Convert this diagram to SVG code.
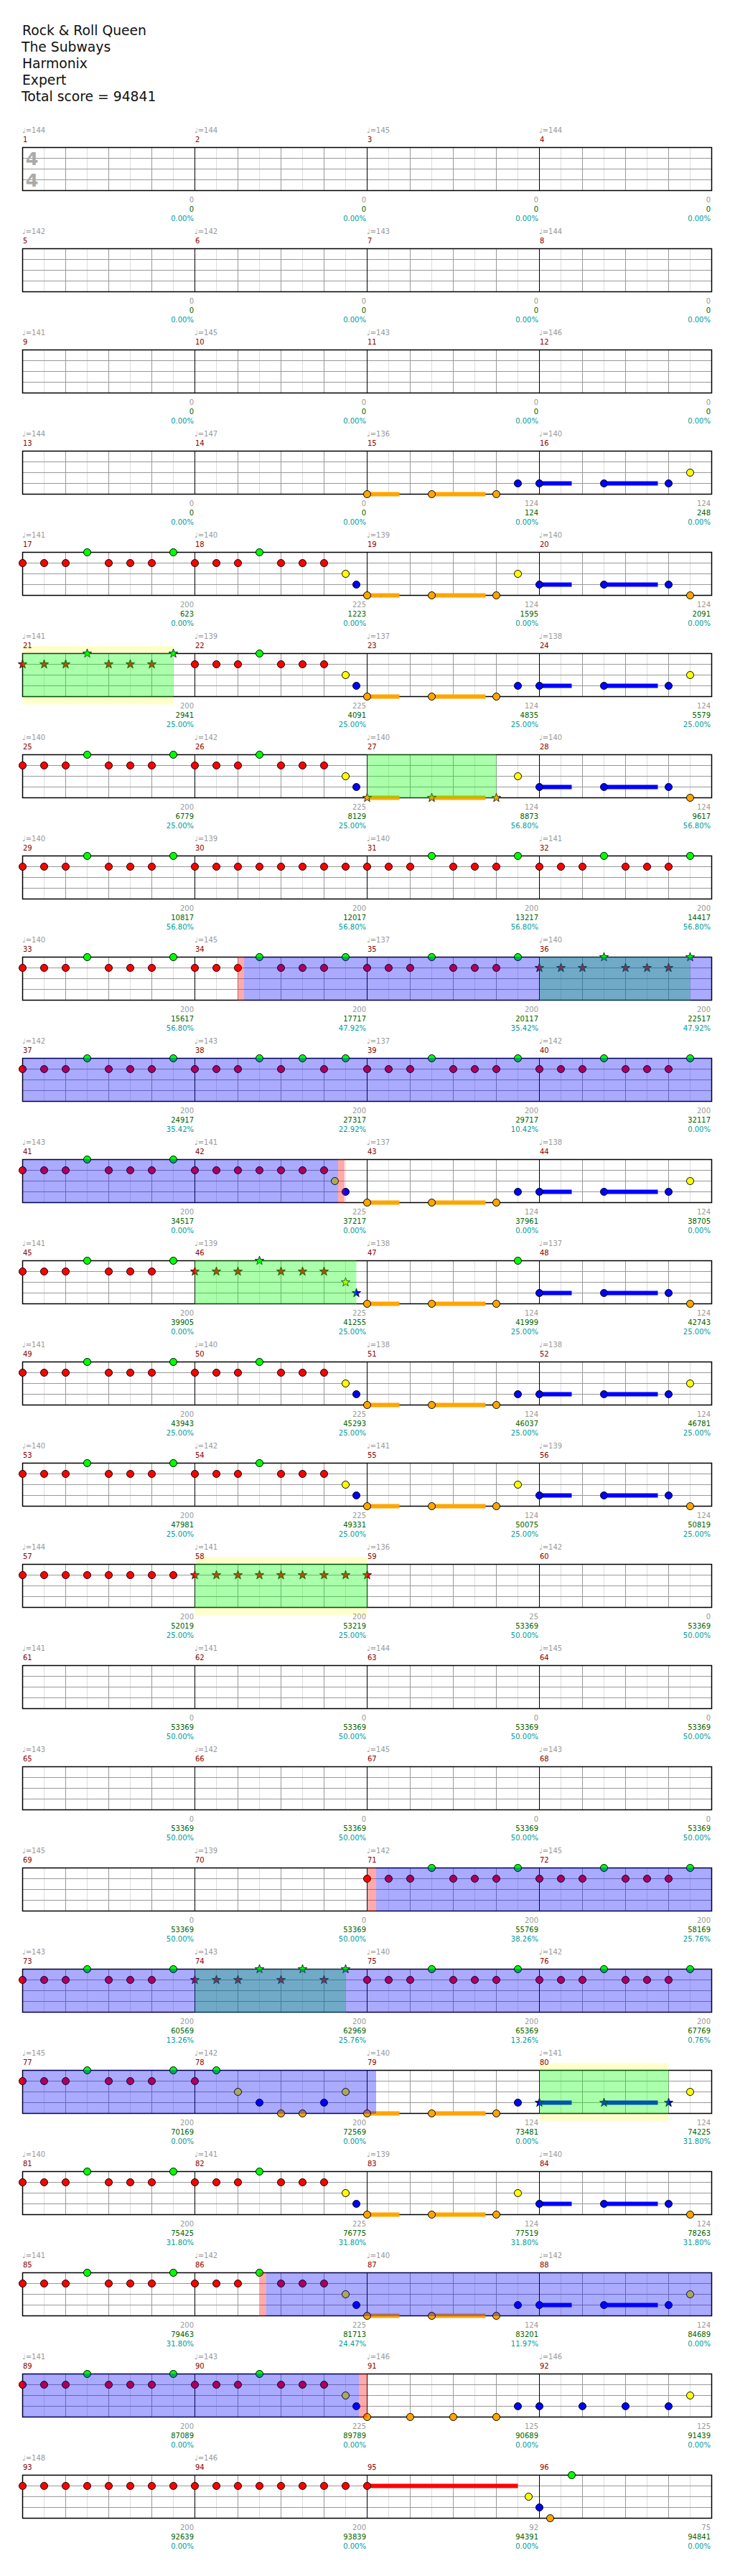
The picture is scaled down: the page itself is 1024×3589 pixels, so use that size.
<svg xmlns="http://www.w3.org/2000/svg" width="1024" height="3589" viewBox="0 0 1024 3589">
<style>
text{font-family:"DejaVu Sans","Liberation Sans",sans-serif;font-size:10px}
.hd{font-size:18.75px;fill:#111}
.ts{font-size:25.5px;font-weight:bold;fill:#aaa;text-anchor:middle}
.tp{fill:#999}
.mn{fill:#8b0000}
.l1{fill:#999;text-anchor:end}
.l2{fill:#006400;text-anchor:end}
.l3{fill:#009c9c;text-anchor:end}
.g{fill:#0f0}.r{fill:#f00}.y{fill:#ff0}.b{fill:#00f}.o{fill:#ffa500}
circle{stroke:#000;stroke-width:1}
.oB{fill:#00f;fill-opacity:.333}
.oG{fill:#0f0;fill-opacity:.333}
.oP{fill:#f00;fill-opacity:.333}
.oY{fill:#ffc}
</style>
<defs>
<g id="staff">
<rect x="31.5" y="205.5" width="960" height="60" fill="#fff"/>
<path d="M61.5 205.5v60M121.5 205.5v60M181.5 205.5v60M241.5 205.5v60M301.5 205.5v60M361.5 205.5v60M421.5 205.5v60M481.5 205.5v60M541.5 205.5v60M601.5 205.5v60M661.5 205.5v60M721.5 205.5v60M781.5 205.5v60M841.5 205.5v60M901.5 205.5v60M961.5 205.5v60" stroke="#ddd"/>
<path d="M91.5 205.5v60M151.5 205.5v60M211.5 205.5v60M331.5 205.5v60M391.5 205.5v60M451.5 205.5v60M571.5 205.5v60M631.5 205.5v60M691.5 205.5v60M811.5 205.5v60M871.5 205.5v60M931.5 205.5v60M31.5 220.5H991.5M31.5 235.5H991.5M31.5 250.5H991.5" stroke="#999"/>
<path d="M271.5 205.5v60M511.5 205.5v60M751.5 205.5v60" stroke="#000"/>
<rect x="31.5" y="205.5" width="960" height="60" fill="none" stroke="#000" stroke-width="1.5"/>
</g>
<path id="star" d="M0,-6.5L1.53,-2.1L6.18,-2.01L2.47,0.8L3.82,5.26L0,2.6L-3.82,5.26L-2.47,0.8L-6.18,-2.01L-1.53,-2.1Z" stroke="#000" stroke-width="0.8"/>
<g id="p7">
<circle class="r" cx="31.5" cy="220.5" r="5"/><circle class="r" cx="61.5" cy="220.5" r="5"/><circle class="r" cx="91.5" cy="220.5" r="5"/><circle class="g" cx="121.5" cy="205.5" r="5"/><circle class="r" cx="151.5" cy="220.5" r="5"/><circle class="r" cx="181.5" cy="220.5" r="5"/><circle class="r" cx="211.5" cy="220.5" r="5"/>
</g>
<g id="tO">
<rect class="o" x="511.5" y="262.5" width="45" height="6"/><rect class="o" x="601.5" y="262.5" width="75" height="6"/>
<circle class="o" cx="511.5" cy="265.5" r="5"/><circle class="o" cx="601.5" cy="265.5" r="5"/><circle class="o" cx="691.5" cy="265.5" r="5"/>
</g>
<g id="tB">
<rect class="b" x="751.5" y="247.5" width="45" height="6"/><rect class="b" x="841.5" y="247.5" width="75" height="6"/>
<circle class="b" cx="751.5" cy="250.5" r="5"/><circle class="b" cx="841.5" cy="250.5" r="5"/><circle class="b" cx="931.5" cy="250.5" r="5"/>
</g>
</defs>
<rect width="1024" height="3589" fill="#fff"/>
<g id="header">
<text class="hd" x="31" y="49">Rock &amp; Roll Queen</text>
<text class="hd" x="30" y="72">The Subways</text>
<text class="hd" x="31" y="95">Harmonix</text>
<text class="hd" x="31" y="118">Expert</text>
<text class="hd" x="30" y="141">Total score = 94841</text>
</g>

<g id="row-0">
<use href="#staff"/>
<text class="ts" x="44.5" y="230">4</text><text class="ts" x="44.5" y="260">4</text>
<text class="tp" x="31" y="185">♩=144</text><text class="tp" x="271" y="185">♩=144</text><text class="tp" x="511" y="185">♩=145</text><text class="tp" x="751" y="185">♩=144</text>
<text class="mn" x="32" y="198">1</text><text class="mn" x="272" y="198">2</text><text class="mn" x="512" y="198">3</text><text class="mn" x="752" y="198">4</text>
<text class="l1" x="270" y="281.5">0</text><text class="l2" x="270" y="294.5">0</text><text class="l3" x="270" y="307.5">0.00%</text>
<text class="l1" x="510" y="281.5">0</text><text class="l2" x="510" y="294.5">0</text><text class="l3" x="510" y="307.5">0.00%</text>
<text class="l1" x="750" y="281.5">0</text><text class="l2" x="750" y="294.5">0</text><text class="l3" x="750" y="307.5">0.00%</text>
<text class="l1" x="990" y="281.5">0</text><text class="l2" x="990" y="294.5">0</text><text class="l3" x="990" y="307.5">0.00%</text>
</g>

<g id="row-1" transform="translate(0,141)">
<use href="#staff"/>
<text class="tp" x="31" y="185">♩=142</text><text class="tp" x="271" y="185">♩=142</text><text class="tp" x="511" y="185">♩=143</text><text class="tp" x="751" y="185">♩=144</text>
<text class="mn" x="32" y="198">5</text><text class="mn" x="272" y="198">6</text><text class="mn" x="512" y="198">7</text><text class="mn" x="752" y="198">8</text>
<text class="l1" x="270" y="281.5">0</text><text class="l2" x="270" y="294.5">0</text><text class="l3" x="270" y="307.5">0.00%</text>
<text class="l1" x="510" y="281.5">0</text><text class="l2" x="510" y="294.5">0</text><text class="l3" x="510" y="307.5">0.00%</text>
<text class="l1" x="750" y="281.5">0</text><text class="l2" x="750" y="294.5">0</text><text class="l3" x="750" y="307.5">0.00%</text>
<text class="l1" x="990" y="281.5">0</text><text class="l2" x="990" y="294.5">0</text><text class="l3" x="990" y="307.5">0.00%</text>
</g>

<g id="row-2" transform="translate(0,282)">
<use href="#staff"/>
<text class="tp" x="31" y="185">♩=141</text><text class="tp" x="271" y="185">♩=145</text><text class="tp" x="511" y="185">♩=143</text><text class="tp" x="751" y="185">♩=146</text>
<text class="mn" x="32" y="198">9</text><text class="mn" x="272" y="198">10</text><text class="mn" x="512" y="198">11</text><text class="mn" x="752" y="198">12</text>
<text class="l1" x="270" y="281.5">0</text><text class="l2" x="270" y="294.5">0</text><text class="l3" x="270" y="307.5">0.00%</text>
<text class="l1" x="510" y="281.5">0</text><text class="l2" x="510" y="294.5">0</text><text class="l3" x="510" y="307.5">0.00%</text>
<text class="l1" x="750" y="281.5">0</text><text class="l2" x="750" y="294.5">0</text><text class="l3" x="750" y="307.5">0.00%</text>
<text class="l1" x="990" y="281.5">0</text><text class="l2" x="990" y="294.5">0</text><text class="l3" x="990" y="307.5">0.00%</text>
</g>

<g id="row-3" transform="translate(0,423)">
<use href="#staff"/>
<use href="#tO"/><circle class="b" cx="721.5" cy="250.5" r="5"/><use href="#tB"/><circle class="y" cx="961.5" cy="235.5" r="5"/>
<text class="tp" x="31" y="185">♩=144</text><text class="tp" x="271" y="185">♩=147</text><text class="tp" x="511" y="185">♩=136</text><text class="tp" x="751" y="185">♩=140</text>
<text class="mn" x="32" y="198">13</text><text class="mn" x="272" y="198">14</text><text class="mn" x="512" y="198">15</text><text class="mn" x="752" y="198">16</text>
<text class="l1" x="270" y="281.5">0</text><text class="l2" x="270" y="294.5">0</text><text class="l3" x="270" y="307.5">0.00%</text>
<text class="l1" x="510" y="281.5">0</text><text class="l2" x="510" y="294.5">0</text><text class="l3" x="510" y="307.5">0.00%</text>
<text class="l1" x="750" y="281.5">124</text><text class="l2" x="750" y="294.5">124</text><text class="l3" x="750" y="307.5">0.00%</text>
<text class="l1" x="990" y="281.5">124</text><text class="l2" x="990" y="294.5">248</text><text class="l3" x="990" y="307.5">0.00%</text>
</g>

<g id="row-4" transform="translate(0,564)">
<use href="#staff"/>
<use href="#p7"/><circle class="g" cx="241.5" cy="205.5" r="5"/><use href="#p7" x="240"/>
<circle class="y" cx="481.5" cy="235.5" r="5"/><circle class="b" cx="496.5" cy="250.5" r="5"/>
<use href="#tO"/><circle class="y" cx="721.5" cy="235.5" r="5"/><use href="#tB"/><circle class="o" cx="961.5" cy="265.5" r="5"/>
<text class="tp" x="31" y="185">♩=141</text><text class="tp" x="271" y="185">♩=140</text><text class="tp" x="511" y="185">♩=139</text><text class="tp" x="751" y="185">♩=140</text>
<text class="mn" x="32" y="198">17</text><text class="mn" x="272" y="198">18</text><text class="mn" x="512" y="198">19</text><text class="mn" x="752" y="198">20</text>
<text class="l1" x="270" y="281.5">200</text><text class="l2" x="270" y="294.5">623</text><text class="l3" x="270" y="307.5">0.00%</text>
<text class="l1" x="510" y="281.5">225</text><text class="l2" x="510" y="294.5">1223</text><text class="l3" x="510" y="307.5">0.00%</text>
<text class="l1" x="750" y="281.5">124</text><text class="l2" x="750" y="294.5">1595</text><text class="l3" x="750" y="307.5">0.00%</text>
<text class="l1" x="990" y="281.5">124</text><text class="l2" x="990" y="294.5">2091</text><text class="l3" x="990" y="307.5">0.00%</text>
</g>

<g id="row-5" transform="translate(0,705)">
<rect class="oY" x="31.5" y="195" width="210" height="81.5"/>
<use href="#staff"/>
<use href="#star" class="r" x="31.5" y="220.5"/><use href="#star" class="r" x="61.5" y="220.5"/><use href="#star" class="r" x="91.5" y="220.5"/><use href="#star" class="g" x="121.5" y="205.5"/><use href="#star" class="r" x="151.5" y="220.5"/><use href="#star" class="r" x="181.5" y="220.5"/><use href="#star" class="r" x="211.5" y="220.5"/><use href="#star" class="g" x="241.5" y="205.5"/>
<use href="#p7" x="240"/>
<circle class="y" cx="481.5" cy="235.5" r="5"/><circle class="b" cx="496.5" cy="250.5" r="5"/>
<use href="#tO"/><circle class="b" cx="721.5" cy="250.5" r="5"/><use href="#tB"/><circle class="y" cx="961.5" cy="235.5" r="5"/>
<rect class="oG" x="31.5" y="205" width="210" height="61"/>
<text class="tp" x="31" y="185">♩=141</text><text class="tp" x="271" y="185">♩=139</text><text class="tp" x="511" y="185">♩=137</text><text class="tp" x="751" y="185">♩=138</text>
<text class="mn" x="32" y="198">21</text><text class="mn" x="272" y="198">22</text><text class="mn" x="512" y="198">23</text><text class="mn" x="752" y="198">24</text>
<text class="l1" x="270" y="281.5">200</text><text class="l2" x="270" y="294.5">2941</text><text class="l3" x="270" y="307.5">25.00%</text>
<text class="l1" x="510" y="281.5">225</text><text class="l2" x="510" y="294.5">4091</text><text class="l3" x="510" y="307.5">25.00%</text>
<text class="l1" x="750" y="281.5">124</text><text class="l2" x="750" y="294.5">4835</text><text class="l3" x="750" y="307.5">25.00%</text>
<text class="l1" x="990" y="281.5">124</text><text class="l2" x="990" y="294.5">5579</text><text class="l3" x="990" y="307.5">25.00%</text>
</g>

<g id="row-6" transform="translate(0,846)">
<use href="#staff"/>
<use href="#p7"/><circle class="g" cx="241.5" cy="205.5" r="5"/><use href="#p7" x="240"/>
<circle class="y" cx="481.5" cy="235.5" r="5"/><circle class="b" cx="496.5" cy="250.5" r="5"/>
<rect class="o" x="511.5" y="262.5" width="45" height="6"/><rect class="o" x="601.5" y="262.5" width="75" height="6"/>
<use href="#star" class="o" x="511.5" y="265.5"/><use href="#star" class="o" x="601.5" y="265.5"/><use href="#star" class="o" x="691.5" y="265.5"/>
<circle class="y" cx="721.5" cy="235.5" r="5"/><use href="#tB"/><circle class="o" cx="961.5" cy="265.5" r="5"/>
<rect class="oG" x="511.5" y="205" width="180" height="61"/>
<text class="tp" x="31" y="185">♩=140</text><text class="tp" x="271" y="185">♩=142</text><text class="tp" x="511" y="185">♩=140</text><text class="tp" x="751" y="185">♩=140</text>
<text class="mn" x="32" y="198">25</text><text class="mn" x="272" y="198">26</text><text class="mn" x="512" y="198">27</text><text class="mn" x="752" y="198">28</text>
<text class="l1" x="270" y="281.5">200</text><text class="l2" x="270" y="294.5">6779</text><text class="l3" x="270" y="307.5">25.00%</text>
<text class="l1" x="510" y="281.5">225</text><text class="l2" x="510" y="294.5">8129</text><text class="l3" x="510" y="307.5">25.00%</text>
<text class="l1" x="750" y="281.5">124</text><text class="l2" x="750" y="294.5">8873</text><text class="l3" x="750" y="307.5">56.80%</text>
<text class="l1" x="990" y="281.5">124</text><text class="l2" x="990" y="294.5">9617</text><text class="l3" x="990" y="307.5">56.80%</text>
</g>

<g id="row-7" transform="translate(0,987)">
<use href="#staff"/>
<use href="#p7"/><circle class="g" cx="241.5" cy="205.5" r="5"/>
<circle class="r" cx="271.5" cy="220.5" r="5"/><circle class="r" cx="301.5" cy="220.5" r="5"/><circle class="r" cx="331.5" cy="220.5" r="5"/><circle class="r" cx="361.5" cy="220.5" r="5"/><circle class="r" cx="391.5" cy="220.5" r="5"/><circle class="r" cx="421.5" cy="220.5" r="5"/><circle class="r" cx="451.5" cy="220.5" r="5"/><circle class="r" cx="481.5" cy="220.5" r="5"/>
<use href="#p7" x="480"/><circle class="g" cx="721.5" cy="205.5" r="5"/><use href="#p7" x="720"/><circle class="g" cx="961.5" cy="205.5" r="5"/>
<text class="tp" x="31" y="185">♩=140</text><text class="tp" x="271" y="185">♩=139</text><text class="tp" x="511" y="185">♩=140</text><text class="tp" x="751" y="185">♩=141</text>
<text class="mn" x="32" y="198">29</text><text class="mn" x="272" y="198">30</text><text class="mn" x="512" y="198">31</text><text class="mn" x="752" y="198">32</text>
<text class="l1" x="270" y="281.5">200</text><text class="l2" x="270" y="294.5">10817</text><text class="l3" x="270" y="307.5">56.80%</text>
<text class="l1" x="510" y="281.5">200</text><text class="l2" x="510" y="294.5">12017</text><text class="l3" x="510" y="307.5">56.80%</text>
<text class="l1" x="750" y="281.5">200</text><text class="l2" x="750" y="294.5">13217</text><text class="l3" x="750" y="307.5">56.80%</text>
<text class="l1" x="990" y="281.5">200</text><text class="l2" x="990" y="294.5">14417</text><text class="l3" x="990" y="307.5">56.80%</text>
</g>

<g id="row-8" transform="translate(0,1128)">
<use href="#staff"/>
<use href="#p7"/><circle class="g" cx="241.5" cy="205.5" r="5"/><use href="#p7" x="240"/><circle class="g" cx="481.5" cy="205.5" r="5"/>
<use href="#p7" x="480"/><circle class="g" cx="721.5" cy="205.5" r="5"/>
<use href="#star" class="r" x="751.5" y="220.5"/><use href="#star" class="r" x="781.5" y="220.5"/><use href="#star" class="r" x="811.5" y="220.5"/><use href="#star" class="g" x="841.5" y="205.5"/><use href="#star" class="r" x="871.5" y="220.5"/><use href="#star" class="r" x="901.5" y="220.5"/><use href="#star" class="r" x="931.5" y="220.5"/><use href="#star" class="g" x="961.5" y="205.5"/>
<rect class="oG" x="751.5" y="205" width="210" height="61"/>
<rect class="oP" x="331" y="205" width="9" height="61"/>
<rect class="oB" x="340" y="205" width="651.5" height="61"/>
<text class="tp" x="31" y="185">♩=140</text><text class="tp" x="271" y="185">♩=145</text><text class="tp" x="511" y="185">♩=137</text><text class="tp" x="751" y="185">♩=140</text>
<text class="mn" x="32" y="198">33</text><text class="mn" x="272" y="198">34</text><text class="mn" x="512" y="198">35</text><text class="mn" x="752" y="198">36</text>
<text class="l1" x="270" y="281.5">200</text><text class="l2" x="270" y="294.5">15617</text><text class="l3" x="270" y="307.5">56.80%</text>
<text class="l1" x="510" y="281.5">200</text><text class="l2" x="510" y="294.5">17717</text><text class="l3" x="510" y="307.5">47.92%</text>
<text class="l1" x="750" y="281.5">200</text><text class="l2" x="750" y="294.5">20117</text><text class="l3" x="750" y="307.5">35.42%</text>
<text class="l1" x="990" y="281.5">200</text><text class="l2" x="990" y="294.5">22517</text><text class="l3" x="990" y="307.5">47.92%</text>
</g>

<g id="row-9" transform="translate(0,1269)">
<use href="#staff"/>
<use href="#p7"/><circle class="g" cx="241.5" cy="205.5" r="5"/>
<circle class="r" cx="271.5" cy="220.5" r="5"/><circle class="r" cx="301.5" cy="220.5" r="5"/><circle class="r" cx="331.5" cy="220.5" r="5"/><circle class="g" cx="361.5" cy="205.5" r="5"/><circle class="r" cx="391.5" cy="220.5" r="5"/><circle class="g" cx="421.5" cy="205.5" r="5"/><circle class="r" cx="451.5" cy="220.5" r="5"/><circle class="g" cx="481.5" cy="205.5" r="5"/>
<use href="#p7" x="480"/><circle class="g" cx="721.5" cy="205.5" r="5"/><use href="#p7" x="720"/><circle class="g" cx="961.5" cy="205.5" r="5"/>
<rect class="oB" x="31.5" y="205" width="960" height="61"/>
<text class="tp" x="31" y="185">♩=142</text><text class="tp" x="271" y="185">♩=143</text><text class="tp" x="511" y="185">♩=137</text><text class="tp" x="751" y="185">♩=142</text>
<text class="mn" x="32" y="198">37</text><text class="mn" x="272" y="198">38</text><text class="mn" x="512" y="198">39</text><text class="mn" x="752" y="198">40</text>
<text class="l1" x="270" y="281.5">200</text><text class="l2" x="270" y="294.5">24917</text><text class="l3" x="270" y="307.5">35.42%</text>
<text class="l1" x="510" y="281.5">200</text><text class="l2" x="510" y="294.5">27317</text><text class="l3" x="510" y="307.5">22.92%</text>
<text class="l1" x="750" y="281.5">200</text><text class="l2" x="750" y="294.5">29717</text><text class="l3" x="750" y="307.5">10.42%</text>
<text class="l1" x="990" y="281.5">200</text><text class="l2" x="990" y="294.5">32117</text><text class="l3" x="990" y="307.5">0.00%</text>
</g>

<g id="row-10" transform="translate(0,1410)">
<use href="#staff"/>
<use href="#p7"/><circle class="g" cx="241.5" cy="205.5" r="5"/>
<circle class="r" cx="271.5" cy="220.5" r="5"/><circle class="r" cx="301.5" cy="220.5" r="5"/><circle class="r" cx="331.5" cy="220.5" r="5"/><circle class="r" cx="361.5" cy="220.5" r="5"/><circle class="r" cx="391.5" cy="220.5" r="5"/><circle class="r" cx="421.5" cy="220.5" r="5"/><circle class="r" cx="451.5" cy="220.5" r="5"/>
<circle class="y" cx="466.5" cy="235.5" r="5"/><circle class="b" cx="481.5" cy="250.5" r="5"/>
<use href="#tO"/><circle class="b" cx="721.5" cy="250.5" r="5"/><use href="#tB"/><circle class="y" cx="961.5" cy="235.5" r="5"/>
<rect class="oB" x="31.5" y="205" width="439.5" height="61"/>
<rect class="oP" x="471" y="205" width="9" height="61"/>
<text class="tp" x="31" y="185">♩=143</text><text class="tp" x="271" y="185">♩=141</text><text class="tp" x="511" y="185">♩=137</text><text class="tp" x="751" y="185">♩=138</text>
<text class="mn" x="32" y="198">41</text><text class="mn" x="272" y="198">42</text><text class="mn" x="512" y="198">43</text><text class="mn" x="752" y="198">44</text>
<text class="l1" x="270" y="281.5">200</text><text class="l2" x="270" y="294.5">34517</text><text class="l3" x="270" y="307.5">0.00%</text>
<text class="l1" x="510" y="281.5">225</text><text class="l2" x="510" y="294.5">37217</text><text class="l3" x="510" y="307.5">0.00%</text>
<text class="l1" x="750" y="281.5">124</text><text class="l2" x="750" y="294.5">37961</text><text class="l3" x="750" y="307.5">0.00%</text>
<text class="l1" x="990" y="281.5">124</text><text class="l2" x="990" y="294.5">38705</text><text class="l3" x="990" y="307.5">0.00%</text>
</g>

<g id="row-11" transform="translate(0,1551)">
<use href="#staff"/>
<use href="#p7"/><circle class="g" cx="241.5" cy="205.5" r="5"/>
<use href="#star" class="r" x="271.5" y="220.5"/><use href="#star" class="r" x="301.5" y="220.5"/><use href="#star" class="r" x="331.5" y="220.5"/><use href="#star" class="g" x="361.5" y="205.5"/><use href="#star" class="r" x="391.5" y="220.5"/><use href="#star" class="r" x="421.5" y="220.5"/><use href="#star" class="r" x="451.5" y="220.5"/><use href="#star" class="y" x="481.5" y="235.5"/><use href="#star" class="b" x="496.5" y="250.5"/>
<use href="#tO"/><circle class="g" cx="721.5" cy="205.5" r="5"/><use href="#tB"/><circle class="o" cx="961.5" cy="265.5" r="5"/>
<rect class="oG" x="271.5" y="205" width="225" height="61"/>
<text class="tp" x="31" y="185">♩=141</text><text class="tp" x="271" y="185">♩=139</text><text class="tp" x="511" y="185">♩=138</text><text class="tp" x="751" y="185">♩=137</text>
<text class="mn" x="32" y="198">45</text><text class="mn" x="272" y="198">46</text><text class="mn" x="512" y="198">47</text><text class="mn" x="752" y="198">48</text>
<text class="l1" x="270" y="281.5">200</text><text class="l2" x="270" y="294.5">39905</text><text class="l3" x="270" y="307.5">0.00%</text>
<text class="l1" x="510" y="281.5">225</text><text class="l2" x="510" y="294.5">41255</text><text class="l3" x="510" y="307.5">25.00%</text>
<text class="l1" x="750" y="281.5">124</text><text class="l2" x="750" y="294.5">41999</text><text class="l3" x="750" y="307.5">25.00%</text>
<text class="l1" x="990" y="281.5">124</text><text class="l2" x="990" y="294.5">42743</text><text class="l3" x="990" y="307.5">25.00%</text>
</g>

<g id="row-12" transform="translate(0,1692)">
<use href="#staff"/>
<use href="#p7"/><circle class="g" cx="241.5" cy="205.5" r="5"/><use href="#p7" x="240"/>
<circle class="y" cx="481.5" cy="235.5" r="5"/><circle class="b" cx="496.5" cy="250.5" r="5"/>
<use href="#tO"/><circle class="b" cx="721.5" cy="250.5" r="5"/><use href="#tB"/><circle class="y" cx="961.5" cy="235.5" r="5"/>
<text class="tp" x="31" y="185">♩=141</text><text class="tp" x="271" y="185">♩=140</text><text class="tp" x="511" y="185">♩=138</text><text class="tp" x="751" y="185">♩=138</text>
<text class="mn" x="32" y="198">49</text><text class="mn" x="272" y="198">50</text><text class="mn" x="512" y="198">51</text><text class="mn" x="752" y="198">52</text>
<text class="l1" x="270" y="281.5">200</text><text class="l2" x="270" y="294.5">43943</text><text class="l3" x="270" y="307.5">25.00%</text>
<text class="l1" x="510" y="281.5">225</text><text class="l2" x="510" y="294.5">45293</text><text class="l3" x="510" y="307.5">25.00%</text>
<text class="l1" x="750" y="281.5">124</text><text class="l2" x="750" y="294.5">46037</text><text class="l3" x="750" y="307.5">25.00%</text>
<text class="l1" x="990" y="281.5">124</text><text class="l2" x="990" y="294.5">46781</text><text class="l3" x="990" y="307.5">25.00%</text>
</g>

<g id="row-13" transform="translate(0,1833)">
<use href="#staff"/>
<use href="#p7"/><circle class="g" cx="241.5" cy="205.5" r="5"/><use href="#p7" x="240"/>
<circle class="y" cx="481.5" cy="235.5" r="5"/><circle class="b" cx="496.5" cy="250.5" r="5"/>
<use href="#tO"/><circle class="y" cx="721.5" cy="235.5" r="5"/><use href="#tB"/><circle class="o" cx="961.5" cy="265.5" r="5"/>
<text class="tp" x="31" y="185">♩=140</text><text class="tp" x="271" y="185">♩=142</text><text class="tp" x="511" y="185">♩=141</text><text class="tp" x="751" y="185">♩=139</text>
<text class="mn" x="32" y="198">53</text><text class="mn" x="272" y="198">54</text><text class="mn" x="512" y="198">55</text><text class="mn" x="752" y="198">56</text>
<text class="l1" x="270" y="281.5">200</text><text class="l2" x="270" y="294.5">47981</text><text class="l3" x="270" y="307.5">25.00%</text>
<text class="l1" x="510" y="281.5">225</text><text class="l2" x="510" y="294.5">49331</text><text class="l3" x="510" y="307.5">25.00%</text>
<text class="l1" x="750" y="281.5">124</text><text class="l2" x="750" y="294.5">50075</text><text class="l3" x="750" y="307.5">25.00%</text>
<text class="l1" x="990" y="281.5">124</text><text class="l2" x="990" y="294.5">50819</text><text class="l3" x="990" y="307.5">25.00%</text>
</g>

<g id="row-14" transform="translate(0,1974)">
<rect class="oY" x="271.5" y="195" width="240" height="81.5"/>
<use href="#staff"/>
<circle class="r" cx="31.5" cy="220.5" r="5"/><circle class="r" cx="61.5" cy="220.5" r="5"/><circle class="r" cx="91.5" cy="220.5" r="5"/><circle class="r" cx="121.5" cy="220.5" r="5"/><circle class="r" cx="151.5" cy="220.5" r="5"/><circle class="r" cx="181.5" cy="220.5" r="5"/><circle class="r" cx="211.5" cy="220.5" r="5"/><circle class="r" cx="241.5" cy="220.5" r="5"/>
<use href="#star" class="r" x="271.5" y="220.5"/><use href="#star" class="r" x="301.5" y="220.5"/><use href="#star" class="r" x="331.5" y="220.5"/><use href="#star" class="r" x="361.5" y="220.5"/><use href="#star" class="r" x="391.5" y="220.5"/><use href="#star" class="r" x="421.5" y="220.5"/><use href="#star" class="r" x="451.5" y="220.5"/><use href="#star" class="r" x="481.5" y="220.5"/><use href="#star" class="r" x="511.5" y="220.5"/>
<rect class="oG" x="271.5" y="205" width="240" height="61"/>
<text class="tp" x="31" y="185">♩=144</text><text class="tp" x="271" y="185">♩=141</text><text class="tp" x="511" y="185">♩=136</text><text class="tp" x="751" y="185">♩=142</text>
<text class="mn" x="32" y="198">57</text><text class="mn" x="272" y="198">58</text><text class="mn" x="512" y="198">59</text><text class="mn" x="752" y="198">60</text>
<text class="l1" x="270" y="281.5">200</text><text class="l2" x="270" y="294.5">52019</text><text class="l3" x="270" y="307.5">25.00%</text>
<text class="l1" x="510" y="281.5">200</text><text class="l2" x="510" y="294.5">53219</text><text class="l3" x="510" y="307.5">25.00%</text>
<text class="l1" x="750" y="281.5">25</text><text class="l2" x="750" y="294.5">53369</text><text class="l3" x="750" y="307.5">50.00%</text>
<text class="l1" x="990" y="281.5">0</text><text class="l2" x="990" y="294.5">53369</text><text class="l3" x="990" y="307.5">50.00%</text>
</g>

<g id="row-15" transform="translate(0,2115)">
<use href="#staff"/>
<text class="tp" x="31" y="185">♩=141</text><text class="tp" x="271" y="185">♩=141</text><text class="tp" x="511" y="185">♩=144</text><text class="tp" x="751" y="185">♩=145</text>
<text class="mn" x="32" y="198">61</text><text class="mn" x="272" y="198">62</text><text class="mn" x="512" y="198">63</text><text class="mn" x="752" y="198">64</text>
<text class="l1" x="270" y="281.5">0</text><text class="l2" x="270" y="294.5">53369</text><text class="l3" x="270" y="307.5">50.00%</text>
<text class="l1" x="510" y="281.5">0</text><text class="l2" x="510" y="294.5">53369</text><text class="l3" x="510" y="307.5">50.00%</text>
<text class="l1" x="750" y="281.5">0</text><text class="l2" x="750" y="294.5">53369</text><text class="l3" x="750" y="307.5">50.00%</text>
<text class="l1" x="990" y="281.5">0</text><text class="l2" x="990" y="294.5">53369</text><text class="l3" x="990" y="307.5">50.00%</text>
</g>

<g id="row-16" transform="translate(0,2256)">
<use href="#staff"/>
<text class="tp" x="31" y="185">♩=143</text><text class="tp" x="271" y="185">♩=142</text><text class="tp" x="511" y="185">♩=145</text><text class="tp" x="751" y="185">♩=143</text>
<text class="mn" x="32" y="198">65</text><text class="mn" x="272" y="198">66</text><text class="mn" x="512" y="198">67</text><text class="mn" x="752" y="198">68</text>
<text class="l1" x="270" y="281.5">0</text><text class="l2" x="270" y="294.5">53369</text><text class="l3" x="270" y="307.5">50.00%</text>
<text class="l1" x="510" y="281.5">0</text><text class="l2" x="510" y="294.5">53369</text><text class="l3" x="510" y="307.5">50.00%</text>
<text class="l1" x="750" y="281.5">0</text><text class="l2" x="750" y="294.5">53369</text><text class="l3" x="750" y="307.5">50.00%</text>
<text class="l1" x="990" y="281.5">0</text><text class="l2" x="990" y="294.5">53369</text><text class="l3" x="990" y="307.5">50.00%</text>
</g>

<g id="row-17" transform="translate(0,2397)">
<use href="#staff"/>
<use href="#p7" x="480"/><circle class="g" cx="721.5" cy="205.5" r="5"/><use href="#p7" x="720"/><circle class="g" cx="961.5" cy="205.5" r="5"/>
<rect class="oP" x="511.5" y="205" width="12.5" height="61"/>
<rect class="oB" x="524" y="205" width="467.5" height="61"/>
<text class="tp" x="31" y="185">♩=145</text><text class="tp" x="271" y="185">♩=139</text><text class="tp" x="511" y="185">♩=142</text><text class="tp" x="751" y="185">♩=145</text>
<text class="mn" x="32" y="198">69</text><text class="mn" x="272" y="198">70</text><text class="mn" x="512" y="198">71</text><text class="mn" x="752" y="198">72</text>
<text class="l1" x="270" y="281.5">0</text><text class="l2" x="270" y="294.5">53369</text><text class="l3" x="270" y="307.5">50.00%</text>
<text class="l1" x="510" y="281.5">0</text><text class="l2" x="510" y="294.5">53369</text><text class="l3" x="510" y="307.5">50.00%</text>
<text class="l1" x="750" y="281.5">200</text><text class="l2" x="750" y="294.5">55769</text><text class="l3" x="750" y="307.5">38.26%</text>
<text class="l1" x="990" y="281.5">200</text><text class="l2" x="990" y="294.5">58169</text><text class="l3" x="990" y="307.5">25.76%</text>
</g>

<g id="row-18" transform="translate(0,2538)">
<use href="#staff"/>
<use href="#p7"/><circle class="g" cx="241.5" cy="205.5" r="5"/>
<use href="#star" class="r" x="271.5" y="220.5"/><use href="#star" class="r" x="301.5" y="220.5"/><use href="#star" class="r" x="331.5" y="220.5"/><use href="#star" class="g" x="361.5" y="205.5"/><use href="#star" class="r" x="391.5" y="220.5"/><use href="#star" class="g" x="421.5" y="205.5"/><use href="#star" class="r" x="451.5" y="220.5"/><use href="#star" class="g" x="481.5" y="205.5"/>
<use href="#p7" x="480"/><circle class="g" cx="721.5" cy="205.5" r="5"/><use href="#p7" x="720"/><circle class="g" cx="961.5" cy="205.5" r="5"/>
<rect class="oG" x="271.5" y="205" width="210" height="61"/>
<rect class="oB" x="31.5" y="205" width="960" height="61"/>
<text class="tp" x="31" y="185">♩=143</text><text class="tp" x="271" y="185">♩=143</text><text class="tp" x="511" y="185">♩=140</text><text class="tp" x="751" y="185">♩=142</text>
<text class="mn" x="32" y="198">73</text><text class="mn" x="272" y="198">74</text><text class="mn" x="512" y="198">75</text><text class="mn" x="752" y="198">76</text>
<text class="l1" x="270" y="281.5">200</text><text class="l2" x="270" y="294.5">60569</text><text class="l3" x="270" y="307.5">13.26%</text>
<text class="l1" x="510" y="281.5">200</text><text class="l2" x="510" y="294.5">62969</text><text class="l3" x="510" y="307.5">25.76%</text>
<text class="l1" x="750" y="281.5">200</text><text class="l2" x="750" y="294.5">65369</text><text class="l3" x="750" y="307.5">13.26%</text>
<text class="l1" x="990" y="281.5">200</text><text class="l2" x="990" y="294.5">67769</text><text class="l3" x="990" y="307.5">0.76%</text>
</g>

<g id="row-19" transform="translate(0,2679)">
<rect class="oY" x="751.5" y="195" width="180" height="81.5"/>
<use href="#staff"/>
<use href="#p7"/><circle class="g" cx="241.5" cy="205.5" r="5"/>
<circle class="r" cx="271.5" cy="220.5" r="5"/><circle class="g" cx="301.5" cy="205.5" r="5"/><circle class="y" cx="331.5" cy="235.5" r="5"/><circle class="b" cx="361.5" cy="250.5" r="5"/><circle class="o" cx="391.5" cy="265.5" r="5"/><circle class="o" cx="421.5" cy="265.5" r="5"/><circle class="b" cx="451.5" cy="250.5" r="5"/><circle class="y" cx="481.5" cy="235.5" r="5"/>
<use href="#tO"/><circle class="b" cx="721.5" cy="250.5" r="5"/>
<rect class="b" x="751.5" y="247.5" width="45" height="6"/><rect class="b" x="841.5" y="247.5" width="75" height="6"/>
<use href="#star" class="b" x="751.5" y="250.5"/><use href="#star" class="b" x="841.5" y="250.5"/><use href="#star" class="b" x="931.5" y="250.5"/>
<circle class="y" cx="961.5" cy="235.5" r="5"/>
<rect class="oB" x="31.5" y="205" width="492.5" height="61"/>
<rect class="oG" x="751.5" y="205" width="180" height="61"/>
<text class="tp" x="31" y="185">♩=145</text><text class="tp" x="271" y="185">♩=142</text><text class="tp" x="511" y="185">♩=140</text><text class="tp" x="751" y="185">♩=141</text>
<text class="mn" x="32" y="198">77</text><text class="mn" x="272" y="198">78</text><text class="mn" x="512" y="198">79</text><text class="mn" x="752" y="198">80</text>
<text class="l1" x="270" y="281.5">200</text><text class="l2" x="270" y="294.5">70169</text><text class="l3" x="270" y="307.5">0.00%</text>
<text class="l1" x="510" y="281.5">200</text><text class="l2" x="510" y="294.5">72569</text><text class="l3" x="510" y="307.5">0.00%</text>
<text class="l1" x="750" y="281.5">124</text><text class="l2" x="750" y="294.5">73481</text><text class="l3" x="750" y="307.5">0.00%</text>
<text class="l1" x="990" y="281.5">124</text><text class="l2" x="990" y="294.5">74225</text><text class="l3" x="990" y="307.5">31.80%</text>
</g>

<g id="row-20" transform="translate(0,2820)">
<use href="#staff"/>
<use href="#p7"/><circle class="g" cx="241.5" cy="205.5" r="5"/><use href="#p7" x="240"/>
<circle class="y" cx="481.5" cy="235.5" r="5"/><circle class="b" cx="496.5" cy="250.5" r="5"/>
<use href="#tO"/><circle class="y" cx="721.5" cy="235.5" r="5"/><use href="#tB"/><circle class="o" cx="961.5" cy="265.5" r="5"/>
<text class="tp" x="31" y="185">♩=140</text><text class="tp" x="271" y="185">♩=141</text><text class="tp" x="511" y="185">♩=139</text><text class="tp" x="751" y="185">♩=140</text>
<text class="mn" x="32" y="198">81</text><text class="mn" x="272" y="198">82</text><text class="mn" x="512" y="198">83</text><text class="mn" x="752" y="198">84</text>
<text class="l1" x="270" y="281.5">200</text><text class="l2" x="270" y="294.5">75425</text><text class="l3" x="270" y="307.5">31.80%</text>
<text class="l1" x="510" y="281.5">225</text><text class="l2" x="510" y="294.5">76775</text><text class="l3" x="510" y="307.5">31.80%</text>
<text class="l1" x="750" y="281.5">124</text><text class="l2" x="750" y="294.5">77519</text><text class="l3" x="750" y="307.5">31.80%</text>
<text class="l1" x="990" y="281.5">124</text><text class="l2" x="990" y="294.5">78263</text><text class="l3" x="990" y="307.5">31.80%</text>
</g>

<g id="row-21" transform="translate(0,2961)">
<use href="#staff"/>
<use href="#p7"/><circle class="g" cx="241.5" cy="205.5" r="5"/><use href="#p7" x="240"/>
<circle class="y" cx="481.5" cy="235.5" r="5"/><circle class="b" cx="496.5" cy="250.5" r="5"/>
<use href="#tO"/><circle class="b" cx="721.5" cy="250.5" r="5"/><use href="#tB"/><circle class="y" cx="961.5" cy="235.5" r="5"/>
<rect class="oP" x="361.5" y="205" width="9" height="61"/>
<rect class="oB" x="370.5" y="205" width="621" height="61"/>
<text class="tp" x="31" y="185">♩=141</text><text class="tp" x="271" y="185">♩=142</text><text class="tp" x="511" y="185">♩=140</text><text class="tp" x="751" y="185">♩=142</text>
<text class="mn" x="32" y="198">85</text><text class="mn" x="272" y="198">86</text><text class="mn" x="512" y="198">87</text><text class="mn" x="752" y="198">88</text>
<text class="l1" x="270" y="281.5">200</text><text class="l2" x="270" y="294.5">79463</text><text class="l3" x="270" y="307.5">31.80%</text>
<text class="l1" x="510" y="281.5">225</text><text class="l2" x="510" y="294.5">81713</text><text class="l3" x="510" y="307.5">24.47%</text>
<text class="l1" x="750" y="281.5">124</text><text class="l2" x="750" y="294.5">83201</text><text class="l3" x="750" y="307.5">11.97%</text>
<text class="l1" x="990" y="281.5">124</text><text class="l2" x="990" y="294.5">84689</text><text class="l3" x="990" y="307.5">0.00%</text>
</g>

<g id="row-22" transform="translate(0,3102)">
<use href="#staff"/>
<use href="#p7"/><circle class="g" cx="241.5" cy="205.5" r="5"/><use href="#p7" x="240"/>
<circle class="y" cx="481.5" cy="235.5" r="5"/><circle class="b" cx="496.5" cy="250.5" r="5"/>
<circle class="o" cx="511.5" cy="265.5" r="5"/><circle class="o" cx="571.5" cy="265.5" r="5"/><circle class="o" cx="631.5" cy="265.5" r="5"/><circle class="o" cx="691.5" cy="265.5" r="5"/>
<circle class="b" cx="721.5" cy="250.5" r="5"/><circle class="b" cx="751.5" cy="250.5" r="5"/><circle class="b" cx="811.5" cy="250.5" r="5"/><circle class="b" cx="871.5" cy="250.5" r="5"/><circle class="b" cx="931.5" cy="250.5" r="5"/>
<circle class="y" cx="961.5" cy="235.5" r="5"/>
<rect class="oB" x="31.5" y="205" width="469" height="61"/>
<rect class="oP" x="500.5" y="205" width="11" height="61"/>
<text class="tp" x="31" y="185">♩=141</text><text class="tp" x="271" y="185">♩=143</text><text class="tp" x="511" y="185">♩=146</text><text class="tp" x="751" y="185">♩=146</text>
<text class="mn" x="32" y="198">89</text><text class="mn" x="272" y="198">90</text><text class="mn" x="512" y="198">91</text><text class="mn" x="752" y="198">92</text>
<text class="l1" x="270" y="281.5">200</text><text class="l2" x="270" y="294.5">87089</text><text class="l3" x="270" y="307.5">0.00%</text>
<text class="l1" x="510" y="281.5">225</text><text class="l2" x="510" y="294.5">89789</text><text class="l3" x="510" y="307.5">0.00%</text>
<text class="l1" x="750" y="281.5">125</text><text class="l2" x="750" y="294.5">90689</text><text class="l3" x="750" y="307.5">0.00%</text>
<text class="l1" x="990" y="281.5">125</text><text class="l2" x="990" y="294.5">91439</text><text class="l3" x="990" y="307.5">0.00%</text>
</g>

<g id="row-23" transform="translate(0,3243)">
<use href="#staff"/>
<rect class="r" x="511.5" y="217.5" width="210" height="6"/>
<circle class="r" cx="31.5" cy="220.5" r="5"/><circle class="r" cx="61.5" cy="220.5" r="5"/><circle class="r" cx="91.5" cy="220.5" r="5"/><circle class="r" cx="121.5" cy="220.5" r="5"/><circle class="r" cx="151.5" cy="220.5" r="5"/><circle class="r" cx="181.5" cy="220.5" r="5"/><circle class="r" cx="211.5" cy="220.5" r="5"/><circle class="r" cx="241.5" cy="220.5" r="5"/><circle class="r" cx="271.5" cy="220.5" r="5"/><circle class="r" cx="301.5" cy="220.5" r="5"/><circle class="r" cx="331.5" cy="220.5" r="5"/><circle class="r" cx="361.5" cy="220.5" r="5"/><circle class="r" cx="391.5" cy="220.5" r="5"/><circle class="r" cx="421.5" cy="220.5" r="5"/><circle class="r" cx="451.5" cy="220.5" r="5"/><circle class="r" cx="481.5" cy="220.5" r="5"/><circle class="r" cx="511.5" cy="220.5" r="5"/>
<circle class="y" cx="736.5" cy="235.5" r="5"/><circle class="b" cx="751.5" cy="250.5" r="5"/><circle class="o" cx="766.5" cy="265.5" r="5"/><circle class="g" cx="796.5" cy="205.5" r="5"/>
<text class="tp" x="31" y="185">♩=148</text><text class="tp" x="271" y="185">♩=146</text>
<text class="mn" x="32" y="198">93</text><text class="mn" x="272" y="198">94</text><text class="mn" x="512" y="198">95</text><text class="mn" x="752" y="198">96</text>
<text class="l1" x="270" y="281.5">200</text><text class="l2" x="270" y="294.5">92639</text><text class="l3" x="270" y="307.5">0.00%</text>
<text class="l1" x="510" y="281.5">200</text><text class="l2" x="510" y="294.5">93839</text><text class="l3" x="510" y="307.5">0.00%</text>
<text class="l1" x="750" y="281.5">92</text><text class="l2" x="750" y="294.5">94391</text><text class="l3" x="750" y="307.5">0.00%</text>
<text class="l1" x="990" y="281.5">75</text><text class="l2" x="990" y="294.5">94841</text><text class="l3" x="990" y="307.5">0.00%</text>
</g>
</svg>
